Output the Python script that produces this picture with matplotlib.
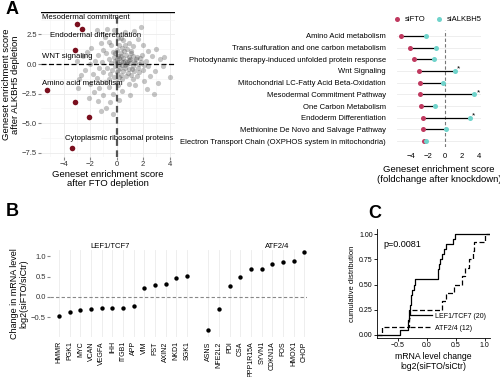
import matplotlib
matplotlib.use("Agg")
import matplotlib.pyplot as plt
import numpy as np

plt.rcParams['font.family'] = ['Liberation Sans', 'DejaVu Sans']
plt.rcParams['axes.unicode_minus'] = True

# ---- panel A (scatter) ----
hl_x = [-2.95, -2.6, -3.15, -5.24, -3.1, -2.1, -3.33]
hl_y = [3.37, 2.95, 1.15, -2.2, -3.17, -4.5, -7.05]
gray_pts = [
    (0.0, 0.2), (0.2, 0.5), (0.4, -0.1), (0.6, 0.3), (0.8, 0.0), (1.0, 0.4), (1.2, -0.2), (1.4, 0.1), (0.3, 0.9), (0.7, 0.8),
    (1.1, 0.9), (-0.2, 0.6), (-0.4, 0.1), (0.1, -0.5), (0.5, -0.6), (0.9, -0.4), (1.3, -0.6), (1.6, -0.3), (1.8, 0.2), (1.5, 0.6),
    (0.0, 1.2), (0.4, 1.4), (-0.3, 1.0), (0.8, 1.3), (1.2, 1.5), (-0.1, -0.2), (0.3, -0.9), (0.7, -1.0), (1.1, -0.9), (1.5, -1.0),
    (2.0, -0.5), (2.2, 0.3), (1.9, 0.8), (2.4, -0.2), (-0.6, 0.4), (-0.7, -0.3), (-0.5, -0.8), (0.2, 0.0), (0.6, -0.3), (1.0, 0.1),
    (0.1, 0.7), (0.5, 0.5), (0.9, 0.6), (1.3, 0.3), (1.7, -0.7), (-0.2, -1.1), (0.4, -1.3), (0.0, -0.7), (0.3, 0.3), (0.75, 0.15),
    (1.25, 0.7), (0.55, 1.1), (-0.1, 0.9), (0.15, 1.6), (0.45, 2.0), (0.9, 1.8), (-0.4, 1.6), (0.1, 2.2), (-0.2, 2.9), (0.3, 2.2),
    (1.3, 2.8), (1.8, 3.15), (-1.5, 2.9), (-0.9, 2.3), (-1.2, 1.8), (-0.6, 1.9), (-1.9, 1.4), (-1.0, 1.2), (-1.4, 0.8), (-0.8, 0.9),
    (-1.6, 0.3), (-1.1, 0.2), (-2.0, 0.0), (-1.3, -0.3), (-2.4, -0.5), (-1.8, -0.8), (-2.65, -0.9), (-1.0, -0.7), (-1.5, -1.2), (-0.9, -1.5),
    (-2.0, -1.7), (-1.3, -2.0), (-0.6, -1.9), (-1.7, -2.4), (-1.0, -2.6), (-0.3, -2.5), (-2.1, -2.9), (-1.4, -3.1), (-0.8, -3.7), (-0.5, -3.2),
    (0.1, -1.8), (0.4, -2.3), (0.9, -1.7), (1.4, -1.8), (2.1, -1.4), (2.5, -1.0), (2.9, -0.6), (3.3, 0.4), (3.0, 1.3), (3.6, 0.6),
    (4.0, -1.1), (3.1, -1.6), (2.4, 1.1), (2.7, 0.7), (2.0, 1.6), (1.6, 2.1), (2.3, -2.1), (1.0, -2.6), (-2.5, 0.7), (-2.9, -2.0),
    (0.05, 0.45), (0.35, 0.7), (0.65, -0.05), (0.95, 0.35), (1.15, -0.45), (1.45, 0.45), (0.25, -0.35), (-0.15, 0.3), (0.85, -0.75), (1.65, 0.0),
    (0.45, 0.15), (1.05, 1.1), (0.15, -1.05), (-0.35, -0.5), (2.1, -0.1), (1.75, 0.55), (0.6, 1.6), (-0.55, -1.3), (1.2, -1.3), (0.0, -1.5),
    (-3.0, 0.3), (-2.2, 1.0), (-2.8, -1.3), (-0.3, -4.2), (0.2, -3.0), (-1.2, -4.0), (2.8, -2.5), (3.5, -0.2), (0.6, 2.7), (-0.7, 3.0),
]
gray_x = [p[0] for p in gray_pts]
gray_y = [p[1] for p in gray_pts]
hl_labels = ["Mesodermal commitment", "Endodermal differentiation", "WNT signaling",
             "Amino acid metabolism", "Cytoplasmic ribosomal proteins"]
hl_label_xy = [(-5.6, 3.9), (-5.0, 2.4), (-5.6, 0.6), (-5.6, -1.6), (-3.9, -6.3)]

# ---- panel A (dumbbell) ----
pathways = ["Amino Acid metabolism", "Trans-sulfuration and one carbon metabolism",
            "Photodynamic therapy-induced unfolded protein response", "Wnt Signaling",
            "Mitochondrial LC-Fatty Acid Beta-Oxidation", "Mesodermal Commitment Pathway",
            "One Carbon Metabolism", "Endoderm Differentiation",
            "Methionine De Novo and Salvage Pathway",
            "Electron Transport Chain (OXPHOS system in mitochondria)"]
sifto = [-5.1, -4.06, -3.6, -3.08, -2.96, -2.88, -2.8, -2.57, -2.57, -2.4]
sialkbh5 = [-2.2, -1.0, -1.27, 1.12, -0.29, 3.43, -1.16, 2.92, 0.14, -2.2]
signif = [False, False, False, True, False, True, False, True, False, False]

# ---- panel B ----
lef_genes = ["HMMR", "PGK1", "MYC", "VCAN", "VEGFA", "IHH", "ITGB1", "APP", "VIM",
             "FST", "AXIN2", "NKD1", "SGK1"]
lef_vals = [-0.46, -0.36, -0.33, -0.30, -0.28, -0.28, -0.26, -0.21, 0.22, 0.29, 0.32, 0.46, 0.51]
atf_genes = ["ASNS", "NFE2L2", "PDI", "CSA", "PPP1R15A", "SYVN1", "CDKN1A", "FOS", "HMOX1", "CHOP"]
atf_vals = [-0.80, -0.29, 0.28, 0.48, 0.68, 0.68, 0.80, 0.85, 0.89, 1.10]

# ---- panel C ----
lef_ecdf = [-0.46, -0.33, -0.32, -0.31, -0.30, -0.29, -0.28, -0.27, -0.26, -0.23, -0.21,
            0.20, 0.20, 0.21, 0.22, 0.26, 0.29, 0.33, 0.45, 0.49]
atf_ecdf = [-0.78, -0.30, -0.29, 0.26, 0.33, 0.47, 0.60, 0.66, 0.72, 0.80, 0.82, 1.00]

RED = "#c0395f"
TEAL = "#6fd3cb"
DARKRED = "#7a0f1e"
GRID = "#ebebeb"

fig = plt.figure(figsize=(5, 3.77), dpi=100)

def px(x0, y0, x1, y1):
    return [x0 / 500, 1 - y1 / 377, (x1 - x0) / 500, (y1 - y0) / 377]

# scatter
ax = fig.add_axes(px(41, 12, 175, 157))
ax.scatter(gray_x, gray_y, s=14, color="#404040", alpha=0.3, linewidths=0, zorder=2)
ax.scatter(hl_x, hl_y, s=16, color=DARKRED, linewidths=0, zorder=3)
ax.axvline(0, color="#555555", ls=(0, (3, 2)), lw=1.6, zorder=1)
ax.axhline(0, color="black", ls=(0, (4, 2)), lw=0.9, zorder=1)
ax.axhline(4.38, color="black", lw=1.0, zorder=4)
for lab, (tx, ty) in zip(hl_labels, hl_label_xy):
    ax.text(tx, ty, lab, fontsize=5.6, ha="left", va="center", zorder=5)
ax.set_xlim(-5.7, 4.4)
ax.set_ylim(-7.85, 4.4)
ax.set_xticks([-4, -2, 0, 2, 4])
ax.set_yticks([2.5, 0, -2.5, -5, -7.5])
ax.set_yticklabels(["2.5", "0.0", "\u22122.5", "\u22125.0", "\u22127.5"])
ax.set_xticks([-5, -3, -1, 1, 3], minor=True)
ax.set_yticks([3.75, 1.25, -1.25, -3.75, -6.25], minor=True)
ax.grid(True, which="major", color=GRID, lw=0.6)
ax.grid(True, which="minor", color="#f4f4f4", lw=0.4)
ax.set_axisbelow(True)
for s in ax.spines.values():
    s.set_visible(False)
ax.tick_params(which="major", labelsize=5.5, length=2, color="#888888", pad=1, labelcolor="#333333")
ax.tick_params(which="minor", length=0)
ax.set_xlabel("Geneset enrichment score\nafter FTO depletion", fontsize=6.8, labelpad=1, linespacing=1.1)
ax.set_ylabel("Geneset enrichment score\nafter ALKBH5 depletion", fontsize=6.8, labelpad=1, linespacing=1.1)

# dumbbell
ax2 = fig.add_axes(px(397, 30, 481, 147))
ypos = np.arange(len(pathways))
for i in range(len(pathways)):
    ax2.plot([sifto[i], sialkbh5[i]], [i, i], color="black", lw=0.9, zorder=2)
ax2.scatter(sifto, ypos, s=13, color=RED, zorder=3, linewidths=0, label="siFTO")
ax2.scatter(sialkbh5, ypos, s=13, color=TEAL, zorder=3, linewidths=0, label="siALKBH5")
for i in range(len(pathways)):
    if signif[i]:
        ax2.text(sialkbh5[i] + 0.25, i - 0.15, "*", fontsize=6, ha="left", va="center")
ax2.axvline(0, color="#777777", ls=(0, (3, 2)), lw=0.8, zorder=1)
ax2.set_yticks(ypos)
ax2.set_yticklabels(pathways, fontsize=5.5)
ax2.set_ylim(len(pathways) - 0.5, -0.5)
ax2.set_xlim(-5.6, 4.2)
ax2.set_xticks([-4, -2, 0, 2, 4])
ax2.grid(True, axis="y", color=GRID, lw=0.6)
ax2.set_axisbelow(True)
for s in ax2.spines.values():
    s.set_visible(False)
ax2.tick_params(axis="both", length=0, pad=2, labelsize=5.5)
ax2.tick_params(axis="x", pad=4)
ax2.tick_params(axis="y", pad=8)
ax2.set_xlabel("Geneset enrichment score\n(foldchange after knockdown)", fontsize=6.8, labelpad=4, linespacing=1.15)
ax2.legend(loc="lower right", bbox_to_anchor=(1.06, 1.03), ncol=2, frameon=False, fontsize=5.5,
           handletextpad=0.05, columnspacing=0.8, borderpad=0, markerscale=1.0)

# panel B
ax3 = fig.add_axes(px(50, 250, 307, 337))
lef_pos = np.arange(len(lef_genes))
atf_pos = np.arange(len(atf_genes)) + len(lef_genes) + 1
ax3.scatter(lef_pos, lef_vals, s=10, color="black", zorder=3, linewidths=0)
ax3.scatter(atf_pos, atf_vals, s=10, color="black", zorder=3, linewidths=0)
ax3.axhline(0, color="#888888", ls=(0, (3, 2)), lw=0.8, zorder=1)
ax3.set_xticks(np.concatenate([lef_pos, atf_pos]))
ax3.set_xticklabels(lef_genes + atf_genes, rotation=90, fontsize=5)
ax3.set_xlim(-0.85, atf_pos[-1] + 0.25)
ax3.set_ylim(-0.98, 1.15)
ax3.set_yticks([1.0, 0.5, 0.0, -0.5])
ax3.set_yticklabels(["1.0", "0.5", "0.0", "\u22120.5"])
ax3.grid(True, axis="x", color=GRID, lw=0.6)
ax3.set_axisbelow(True)
for s in ax3.spines.values():
    s.set_visible(False)
ax3.tick_params(axis="x", length=0, pad=3)
ax3.tick_params(axis="y", labelsize=5.5, length=2, color="#888888", pad=1, labelcolor="#333333")
ax3.set_ylabel("Change in mRNA level\nlog2(siFTO/siCtr)", fontsize=6.5, labelpad=2, linespacing=1.0)
fig.text(110 / 500, 1 - 246 / 377, "LEF1/TCF7", fontsize=5.5, ha="center", va="center")
fig.text(277 / 500, 1 - 246 / 377, "ATF2/4", fontsize=5.5, ha="center", va="center")

# panel C
ax4 = fig.add_axes(px(377, 229, 490, 338))
xl = (-0.86, 1.09)
for vals, ls, lab in [(lef_ecdf, "-", "LEF1/TCF7 (20)"), (atf_ecdf, (0, (4, 2)), "ATF2/4 (12)")]:
    v = np.sort(vals)
    n = len(v)
    xs = np.concatenate([[xl[0]], v, [xl[1]]])
    ys = np.concatenate([[0], np.arange(1, n + 1) / n, [1]])
    ax4.step(xs, ys, where="post", color="black", ls=ls, lw=0.9, label=lab)
ax4.set_xlim(*xl)
ax4.set_ylim(-0.03, 1.05)
ax4.set_xticks([-0.5, 0.0, 0.5, 1.0])
ax4.set_xticklabels(["\u22120.5", "0.0", "0.5", "1.0"])
ax4.set_yticks([0, 0.25, 0.5, 0.75, 1.0])
ax4.set_yticklabels(["0.00", "0.25", "0.50", "0.75", "1.00"])
for s in ["top", "right"]:
    ax4.spines[s].set_visible(False)
for s in ["left", "bottom"]:
    ax4.spines[s].set_linewidth(0.6)
ax4.tick_params(labelsize=5, length=2, pad=1, width=0.6)
ax4.text(-0.75, 0.9, "p=0.0081", fontsize=6.5, ha="left", va="center")
ax4.set_ylabel("cumulative distribution", fontsize=5.5, labelpad=2)
ax4.set_xlabel("mRNA level change\nlog2(siFTO/siCtr)", fontsize=6.2, labelpad=2, linespacing=1.1)
ax4.legend(loc="lower right", bbox_to_anchor=(1.02, 0.0), frameon=False, fontsize=5,
           handlelength=3.2, handletextpad=0.4, labelspacing=0.7)

# panel letters
for lab, x, y in [("A", 6, 10), ("B", 6, 212), ("C", 368, 213)]:
    fig.text(x / 500, 1 - y / 377, lab, fontsize=13, fontweight="bold", ha="left", va="center")

fig.savefig("out.png", dpi=100)
